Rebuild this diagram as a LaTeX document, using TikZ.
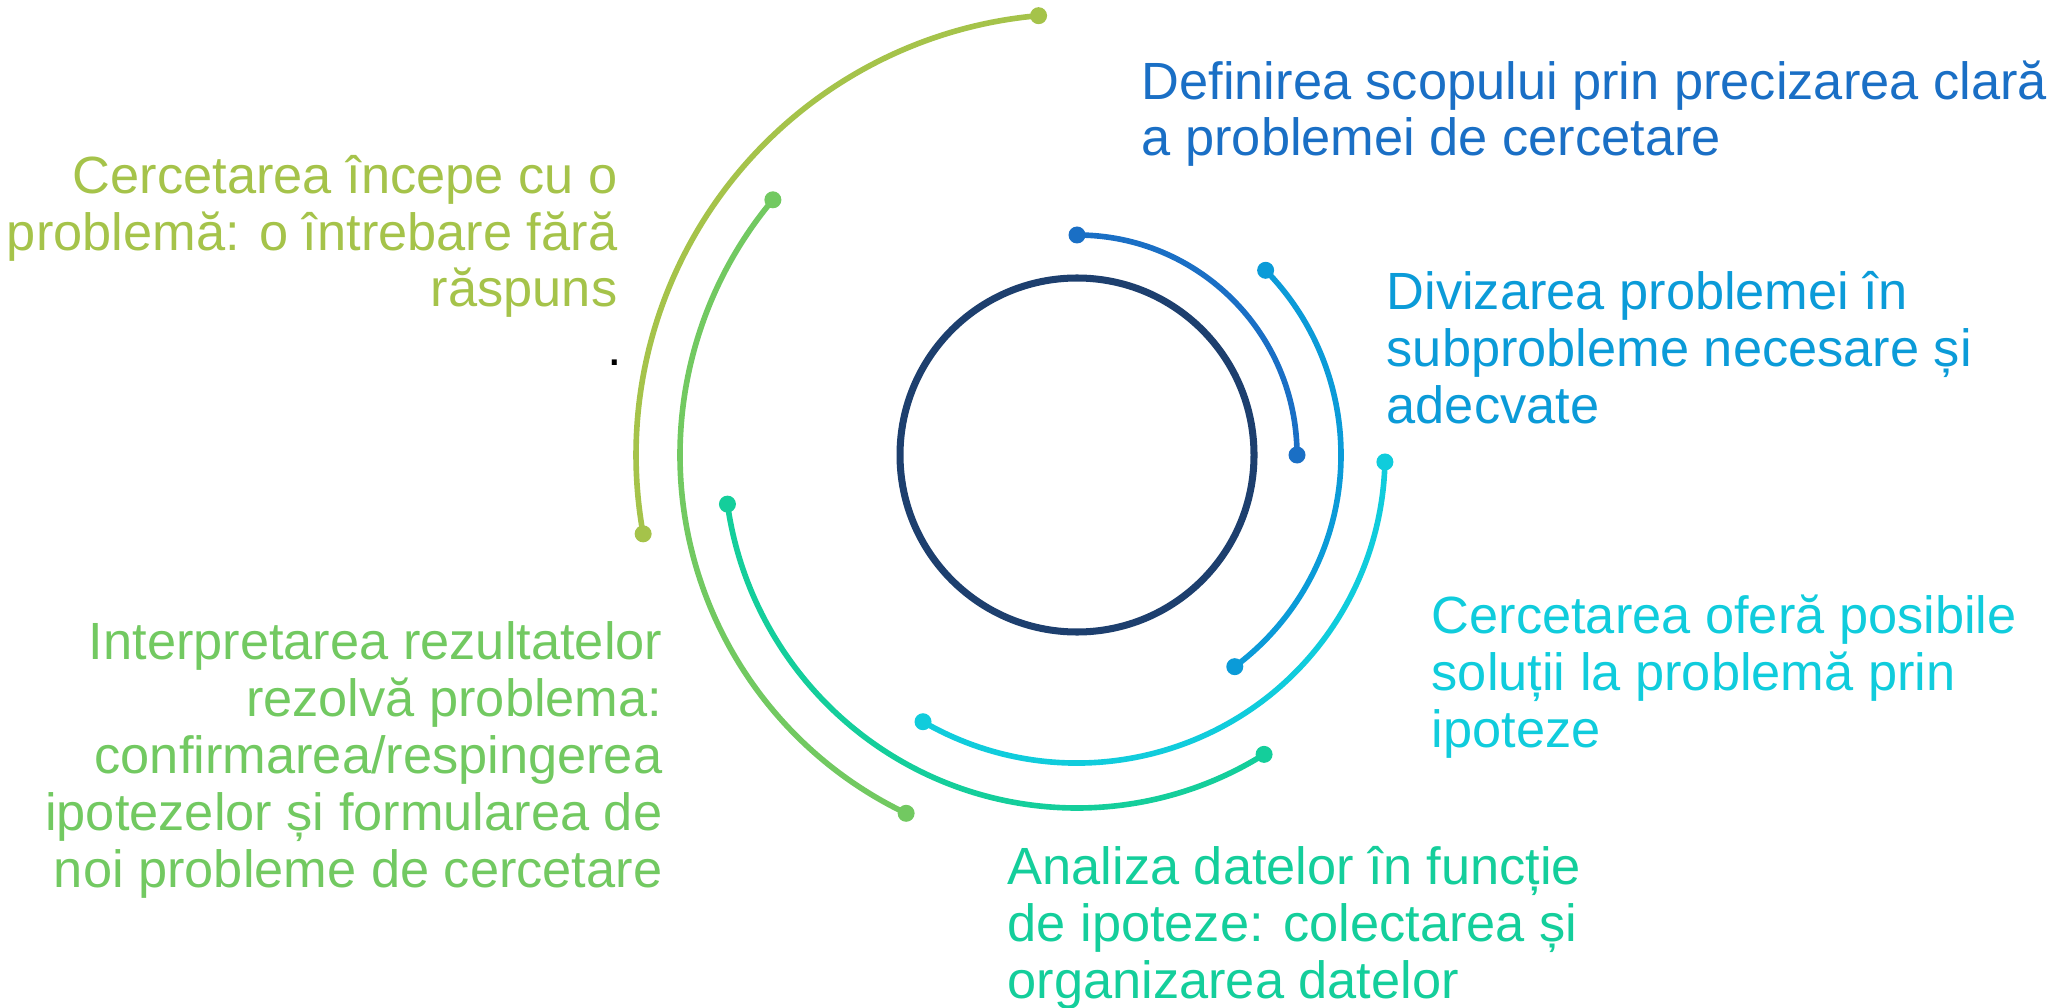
\documentclass[tikz,border=0pt]{standalone}
\usepackage{fontspec}
\setmainfont{Liberation Sans}
\usetikzlibrary{calc}
\definecolor{cCore}{HTML}{1D3F6E}
\definecolor{cDef}{HTML}{1A6FC5}
\definecolor{cDiv}{HTML}{0B9BD8}
\definecolor{cSol}{HTML}{10CCDC}
\definecolor{cAna}{HTML}{14CE9B}
\definecolor{cInt}{HTML}{72C961}
\definecolor{cStart}{HTML}{A5C34A}
\tikzset{
  track/.style={line width=1.6pt},
  txt/.style={inner sep=0pt, font=\fontsize{14.9}{16.2}\selectfont}
}
\begin{document}
\begin{tikzpicture}
                \useasboundingbox (0,0) rectangle (20.65,10.07);
                \coordinate (c) at (10.77,5.52);
                \draw[line width=2pt,cCore] (c) circle (1.77);
                % radius/start/end/colour of each arc
                \foreach \r/\s/\e/\col [count=\i] in {2.20/0/90/cDef, 2.64/-53.3/44.4/cDiv, 3.08/-120/-1.3/cSol, 3.53/-172/-58/cAna, 3.97/140/244.5/cInt, 4.41/95/190.3/cStart}{
                    \draw[track,\col] (c) ++(\s:\r) coordinate (s\i) arc[start angle=\s, end angle=\e, radius=\r] coordinate (e\i);
                    \fill[\col] (s\i) circle (0.085) (e\i) circle (0.085);
                }
                % base anchor = baseline of the last line
                \node[txt,cDef,anchor=base west,align=left] (def) at (11.41,8.51) {Definirea scopului prin precizarea clară\\a problemei de cercetare};
                \node[txt,cDiv,anchor=base west,align=left] (div) at (13.86,5.84) {Divizarea problemei în\\subprobleme necesare și\\adecvate};
                \node[txt,cSol,anchor=base west,align=left] (sol) at (14.31,2.60) {Cercetarea oferă posibile\\soluții la problemă prin\\ipoteze};
                \node[txt,cAna,anchor=base west,align=left] (ana) at (10.07,0.09) {Analiza datelor în funcție\\de ipoteze: colectarea și\\organizarea datelor};
                \node[txt,cStart,anchor=base east,align=right] (start) at (6.18,7.00) {Cercetarea începe cu o\\problemă: o întrebare fără\\răspuns};
                \node[txt,anchor=base] (dot) at (6.15,6.42) {.};
                \node[txt,cInt,anchor=base east,align=right] (interp) at (6.63,1.20) {Interpretarea rezultatelor\\rezolvă problema:\\confirmarea/respingerea\\ipotezelor și formularea de\\noi probleme de cercetare};
\end{tikzpicture}
\end{document}
